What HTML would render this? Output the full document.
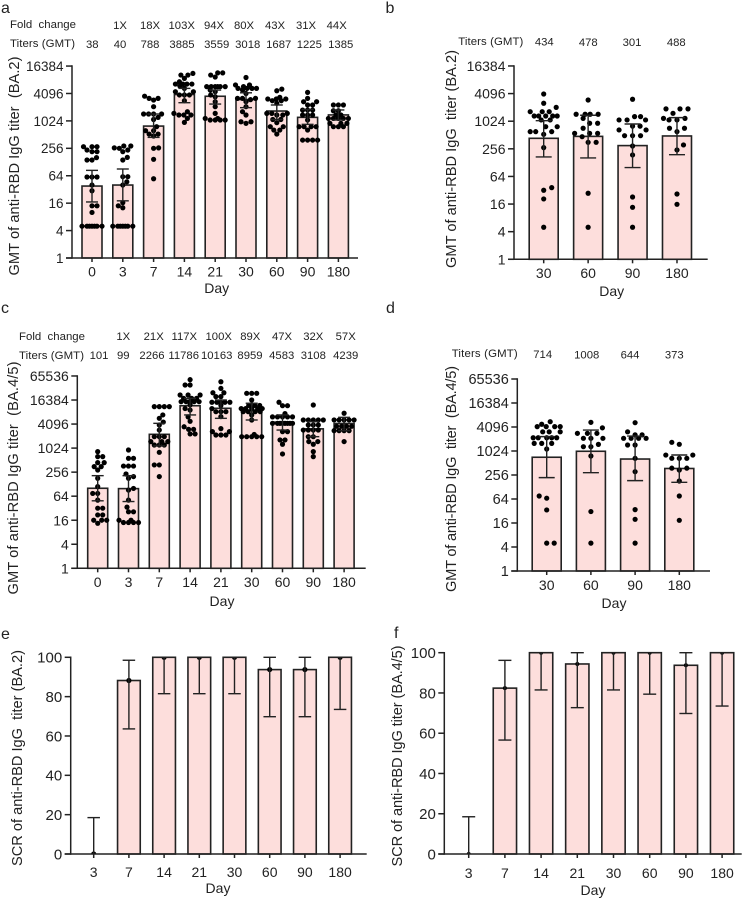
<!DOCTYPE html>
<html lang="en">
<head>
<meta charset="utf-8">
<title>Anti-RBD IgG titers</title>
<style>
html,body{margin:0;padding:0;background:#fff;}
svg{display:block;}
text{font-family:"Liberation Sans",Arial,sans-serif;fill:#222;white-space:pre;}
.top{font-size:11.3px;text-anchor:middle;}
.topl{font-size:11.4px;text-anchor:start;}
.title{font-size:14.6px;text-anchor:middle;}
.day{font-size:14px;text-anchor:middle;}
.plabel{font-size:16px;}
</style>
</head>
<body>
<svg id="fig" xmlns="http://www.w3.org/2000/svg" width="749" height="899" viewBox="0 0 749 899">
<text class="plabel" x="1" y="13">a</text>
<text class="plabel" x="385.5" y="13">b</text>
<text class="plabel" x="1" y="313">c</text>
<text class="plabel" x="386" y="313">d</text>
<text class="plabel" x="1" y="639">e</text>
<text class="plabel" x="394" y="638">f</text>

<g>
<text class="topl" x="10" y="28" textLength="66">Fold  change</text>
<text class="topl" x="10" y="47" textLength="65">Titers (GMT)</text>
<text class="top" x="120" y="29">1X</text>
<text class="top" x="150" y="29">18X</text>
<text class="top" x="181.7" y="29">103X</text>
<text class="top" x="214" y="29">94X</text>
<text class="top" x="244" y="29">80X</text>
<text class="top" x="275" y="29">43X</text>
<text class="top" x="306" y="29">31X</text>
<text class="top" x="336.7" y="29">44X</text>
<text class="top" x="92.3" y="48">38</text>
<text class="top" x="120" y="48">40</text>
<text class="top" x="150" y="48">788</text>
<text class="top" x="182" y="48">3885</text>
<text class="top" x="216.7" y="48">3559</text>
<text class="top" x="247.7" y="48">3018</text>
<text class="top" x="278.7" y="48">1687</text>
<text class="top" x="309.3" y="48">1225</text>
<text class="top" x="340.7" y="48">1385</text>
<text class="title" transform="translate(19,166) rotate(-90)" textLength="219">GMT of anti-RBD IgG titer  (BA.2)</text>
<text class="day" x="216.7" y="293">Day</text>
</g>

<g>
<text class="topl" x="458.3" y="45" textLength="65">Titers (GMT)</text>
<text class="top" x="544.3" y="45.5">434</text>
<text class="top" x="588.3" y="46">478</text>
<text class="top" x="632" y="46">301</text>
<text class="top" x="676.3" y="46">488</text>
<text class="title" transform="translate(456,159) rotate(-90)" textLength="218">GMT of anti-RBD IgG  titer (BA.2)</text>
<text class="day" x="611.7" y="296">Day</text>
</g>

<g>
<text class="topl" x="19" y="340" textLength="66">Fold  change</text>
<text class="topl" x="19" y="359" textLength="65">Titers (GMT)</text>
<text class="top" x="123.3" y="340">1X</text>
<text class="top" x="153.7" y="340">21X</text>
<text class="top" x="184.3" y="340">117X</text>
<text class="top" x="218.7" y="340">100X</text>
<text class="top" x="250.3" y="340">89X</text>
<text class="top" x="282" y="340">47X</text>
<text class="top" x="313.3" y="340">32X</text>
<text class="top" x="345.7" y="340">57X</text>
<text class="top" x="99" y="359">101</text>
<text class="top" x="123.3" y="359">99</text>
<text class="top" x="152" y="359">2266</text>
<text class="top" x="183.7" y="359">11786</text>
<text class="top" x="216.7" y="359">10163</text>
<text class="top" x="250" y="359">8959</text>
<text class="top" x="281.7" y="359">4583</text>
<text class="top" x="313.3" y="359">3108</text>
<text class="top" x="345.7" y="359">4239</text>
<text class="title" transform="translate(18,478) rotate(-90)" textLength="233">GMT of anti-RBD IgG titer  (BA.4/5)</text>
<text class="day" x="222" y="606">Day</text>
</g>

<g>
<text class="topl" x="451.7" y="357" textLength="66">Titers (GMT)</text>
<text class="top" x="542.7" y="358">714</text>
<text class="top" x="586.7" y="358.5">1008</text>
<text class="top" x="630" y="358.5">644</text>
<text class="top" x="674.3" y="358.5">373</text>
<text class="title" transform="translate(456,479) rotate(-90)" textLength="226">GMT of anti-RBD IgG  titer  (BA.4/5)</text>
<text class="day" x="614" y="608">Day</text>
</g>

<g>
<text class="title" transform="translate(22,758) rotate(-90)" textLength="216">SCR of anti-RBD IgG  titer (BA.2)</text>
<text class="day" x="218" y="893">Day</text>
</g>

<g>
<text class="title" transform="translate(402,756) rotate(-90)" textLength="221">SCR of anti-RBD IgG titer (BA.4/5)</text>
<text class="day" x="593" y="895">Day</text>
</g>
</svg>

<script>
// ---------- shared tick labels ----------
var logTicksSmall = [1, 4, 16, 64, 256, 1024, 4096, 16384];
var logTicksLarge = [1, 4, 16, 64, 256, 1024, 4096, 16384, 65536];
var pctTicks = [0, 20, 40, 60, 80, 100];

// ---------- panel a ----------
var aDays = ["0","3","7","14","21","30","60","90","180"];
var aGMT = [38,40,788,3885,3559,3018,1687,1225,1385];
var aUpper = [84,90,1450,5300,4870,4240,2290,1830,1780];
var aLower = [17,18,445,2570,2400,2000,1100,860,1070];
var aPoints = [
 [5,5,5,5,5,5,5,10,14,14,30,40,60,60,60,142,142,160,216,216,235,278,278,278],
 [5,5,5,5,5,5,5,12.7,14,16.4,40,47,61,61,142,162,216,235,256,262,288,288],
 [55,147,256,262,477,526,526,625,625,765,1100,1225,1450,1450,1450,1450,2100,2940,3200,3200,3570],
 [950,1160,1380,1380,1380,1500,1630,2840,3800,3800,3800,4480,4480,5300,5950,6600,6600,6600,6600,7400,8780,10400,10400,11300],
 [1070,1070,1070,1070,1160,1160,1500,2100,2700,3470,3800,4480,4870,5800,5800,5800,5800,5800,5800,9400,10400,11600,11600],
 [905,980,980,1380,1630,2100,2700,3000,3200,3200,3200,4096,4870,5300,5300,5300,5300,5800,6300,6300,9200],
 [526,645,645,765,765,935,1100,1100,1380,1380,1500,1500,1500,2490,2840,2840,3100,3100,3100,3370,4700,5110],
 [388,388,388,388,645,765,765,765,765,1070,1380,1380,1380,1770,1770,1770,2290,2290,2700,2700,3200,4330],
 [765,765,765,905,905,905,1160,1160,1160,1160,1160,1380,1380,1710,1710,2290,2290,2290]
];

// ---------- panel b ----------
var bDays = ["30","60","90","180"];
var bGMT = [434,478,301,488];
var bUpper = [1050,1380,890,1225];
var bLower = [170,162,100,191];
var bPoints = [
 [5,20.7,32,36.5,272,530,606,606,606,778,778,1090,1090,1330,1330,1330,1330,1330,1650,1650,1650,2050,2520,4010],
 [5,27.5,355,355,471,557,557,557,719,923,923,1180,1450,1450,1450,1450,2970],
 [5,13.6,22.8,188,295,495,495,495,660,660,800,800,1090,1090,1090,1290,1290,3080],
 [15.8,26.5,242,311,606,719,719,1090,1090,1180,1180,1520,1900,1900,1900]
];

// ---------- panel c ----------
var cDays = ["0","3","7","14","21","30","60","90","180"];
var cGMT = [101,99,2266,11786,10163,8959,4583,3108,4239];
var cUpper = [209,209,4270,18000,16400,13600,6930,4700,6040];
var cLower = [49,47,1160,6930,5700,5180,2900,1980,2800];
var cPoints = [
 [13.4,16,16,16,21.7,21.7,32,32,51,75,75,111,180,290,352,352,443,443,626,626,836],
 [14,14,14,14,16,16,26,26,34,51,91,100,180,198,230,363,363,363,568,568,919],
 [198,388,388,803,1226,1226,1226,1488,1488,1488,1980,1980,1980,2900,3880,4600,5700,6930,11200,11200,11200,11200],
 [2320,2320,3020,3020,3500,4800,6200,9200,10000,12400,14900,14900,14900,14900,14900,18000,18000,18000,21900,21900,21900,39000,39000,53000],
 [2180,2180,2180,2650,2650,3150,6300,8360,8360,8360,10000,12000,14400,14400,14400,14400,14400,19900,19900,24900,24900,32000,47000],
 [1980,1980,1980,1980,1980,2250,5180,6900,8360,8360,8360,8360,10000,10000,10000,10000,10000,12000,12000,12000,16400,24100,24100,24100],
 [730,1280,1640,1640,2650,2650,4270,4270,4270,4270,4270,4270,4270,4270,6200,6200,6200,6200,6200,7500,11800,11800,14400],
 [626,836,1280,1490,1490,1980,1980,2900,2900,2900,2900,3880,3880,3880,5180,5180,5180,5180,5180,12300],
 [1490,2800,2800,2800,2800,3600,3600,3600,3600,5200,5200,5200,5200,5200,7640]
];

// ---------- panel d ----------
var dDays = ["30","60","90","180"];
var dGMT = [714,1008,644,373];
var dUpper = [2350,3440,2430,813];
var dLower = [220,293,185,168];
var dPoints = [
 [5,5,34,67,76,1150,1590,1590,1590,2200,2200,2200,2200,2200,3100,3100,3100,4180,4180,4180,4180,4800,5560],
 [5,31,766,1315,1315,1500,2130,2130,2130,2840,2840,2840,3900,5360],
 [5,19.8,34.6,310,671,1450,1450,2130,2130,2130,2130,2600,2600,3100,5260],
 [18.7,76,181,342,380,380,671,671,671,810,810,1508,1690]
];

// ---------- panel e ----------
var eDays = ["3","7","14","21","30","60","90","180"];
var eSCR = [0,88.2,100,100,100,93.75,93.75,100];
var eUpper = [18.5,98.5,100,100,100,100,100,100];
var eLower = [0,63.6,81.5,81.5,81.5,69.8,69.8,73.5];

// ---------- panel f ----------
var fDays = ["3","7","14","21","30","60","90","180"];
var fSCR = [0,82.4,100,94.4,100,100,93.75,100];
var fUpper = [18.5,96.2,100,100,100,100,100,100];
var fLower = [0,56.6,81.5,72.7,81.5,79.4,69.8,73.5];

var NS = "http://www.w3.org/2000/svg";
var INK = "#222";
var fig = document.getElementById("fig");

function make(tag, parent, attrs) {
  var el = document.createElementNS(NS, tag);
  for (var k in attrs) el.setAttribute(k, attrs[k]);
  parent.appendChild(el);
  return el;
}

// Generic bar chart: cfg holds axis geometry, arrays hold data.
function drawPanel(id, cfg, days, values, upper, lower, points, ticks) {
  var g = make("g", fig, {});
  
  

  function yScale(v) { return cfg.yBase - cfg.pos(v) * cfg.unit; }
  function xScale(i) { return cfg.x0 + i * cfg.step; }

  // Bars
  values.forEach(function (v, i) {
    var top = yScale(v);
    var bar = make("rect", g, {
      x: xScale(i) - cfg.barW / 2, y: top, width: cfg.barW, height: Math.max(cfg.yBase - top, 0),
      fill: "#fddedc", stroke: INK, "stroke-width": 1.6
    });
    
    
  });

  // Dots, placed as a centred beeswarm around each bar
  var clipId = "clip-" + id;
  var defs = make("clipPath", g, { id: clipId });
  make("rect", defs, { x: cfg.axisX, y: yScale(cfg.yMax), width: cfg.axisEnd - cfg.axisX, height: cfg.yBase - yScale(cfg.yMax) });
  var dots = make("g", g, cfg.clip ? { "clip-path": "url(#" + clipId + ")" } : {});
  
  

  function placeDots(list, i) {
    var sorted = list.slice().sort(function (a, b) { return a - b; });
    var placed = [];
    sorted.forEach(function (v, n) {
      var y = yScale(v);
      var side = n % 2 ? 1 : -1;
      var bestX = 0, bestD = -1, found = false;
      for (var s = 0; s <= cfg.spread && !found; s += 0.5) {
        var tries = s === 0 ? [0] : [s * side, -s * side];
        for (var t = 0; t < tries.length; t++) {
          var nearest = Infinity;
          placed.forEach(function (p) {
            var dx = p.x - tries[t], dy = p.y - y;
            nearest = Math.min(nearest, Math.sqrt(dx * dx + dy * dy));
          });
          if (nearest > bestD) { bestD = nearest; bestX = tries[t]; }
          if (nearest >= cfg.dotGap) { bestX = tries[t]; found = true; break; }
        }
      }
      placed.push({ x: bestX, y: y });
      var dot = make("circle", dots, { cx: xScale(i) + bestX, cy: y, r: cfg.r, fill: "#000" });
      
      
    });
  }

  if (points) {
    points.forEach(placeDots);
  } else {
    values.forEach(function (v, i) { placeDots([v], i); });
  }

  // Error bars
  values.forEach(function (v, i) {
    var x = xScale(i), yU = yScale(upper[i]), yL = yScale(lower[i]);
    var eg = make("g", g, { stroke: INK, "stroke-width": 1.4, fill: "none" });
    
    
    make("line", eg, { x1: x, x2: x, y1: yU, y2: yL });
    make("line", eg, { x1: x - cfg.cap / 2, x2: x + cfg.cap / 2, y1: yU, y2: yU });
    if (yScale(lower[i]) < cfg.yBase - 0.5) {
      make("line", eg, { x1: x - cfg.cap / 2, x2: x + cfg.cap / 2, y1: yL, y2: yL });
    }
  });

  // Axes
  var axis = make("g", g, { stroke: INK, "stroke-width": 1.5, fill: "none" });
  
  
  make("line", axis, { x1: cfg.axisX, x2: cfg.axisX, y1: yScale(cfg.yMax) - 0.75, y2: cfg.yBase + 0.75 });
  make("line", axis, { x1: cfg.axisX - 6, x2: cfg.axisEnd, y1: cfg.yBase, y2: cfg.yBase });

  ticks.forEach(function (t) {
    var y = yScale(t);
    make("line", axis, { x1: cfg.axisX - 6, x2: cfg.axisX, y1: y, y2: y });
    var lab = make("text", g, {
      x: cfg.axisX - 8.5, y: y + cfg.yFont * 0.36, "text-anchor": "end", "font-size": cfg.yFont
    });
    lab.textContent = String(t);
    
    
  });

  days.forEach(function (d, i) {
    var x = xScale(i);
    make("line", axis, { x1: x, x2: x, y1: cfg.yBase, y2: cfg.yBase + 4 });
    var lab = make("text", g, {
      x: x, y: cfg.xLabelY, "text-anchor": "middle", "font-size": 14
    });
    lab.textContent = d;
    
    
  });
}

function log2Pos(v) { return Math.log(v) / Math.LN2; }
function linPos(v) { return v; }

drawPanel("a", { pos: log2Pos, unit: 13.71, yBase: 258, yMax: 16384, x0: 92, step: 30.8, barW: 20, axisX: 72, axisEnd: 358, cap: 12, r: 2.6, dotGap: 4.8, spread: 10.5, yFont: 13.5, xLabelY: 276.5, clip: false },
  aDays, aGMT, aUpper, aLower, aPoints, logTicksSmall);

drawPanel("b", { pos: log2Pos, unit: 13.81, yBase: 259.3, yMax: 16384, x0: 543.7, step: 44.43, barW: 29, axisX: 514, axisEnd: 707.7, cap: 16, r: 2.6, dotGap: 8, spread: 13.5, yFont: 14, xLabelY: 278, clip: false },
  bDays, bGMT, bUpper, bLower, bPoints, logTicksSmall);

drawPanel("c", { pos: log2Pos, unit: 12.02, yBase: 568.3, yMax: 65536, x0: 97.7, step: 30.8, barW: 20, axisX: 77.3, axisEnd: 365.7, cap: 12, r: 2.6, dotGap: 4.8, spread: 10.5, yFont: 14, xLabelY: 587, clip: false },
  cDays, cGMT, cUpper, cLower, cPoints, logTicksLarge);

drawPanel("d", { pos: log2Pos, unit: 12, yBase: 571, yMax: 65536, x0: 546.7, step: 44.2, barW: 29, axisX: 517.3, axisEnd: 710, cap: 16, r: 2.6, dotGap: 7.5, spread: 13.5, yFont: 14.5, xLabelY: 590, clip: false },
  dDays, dGMT, dUpper, dLower, dPoints, logTicksLarge);

drawPanel("e", { pos: linPos, unit: 1.967, yBase: 854, yMax: 100, x0: 93.7, step: 35.2, barW: 22.7, axisX: 70.7, axisEnd: 366.7, cap: 12.5, r: 2.6, dotGap: 5, spread: 0, yFont: 15, xLabelY: 877, clip: true },
  eDays, eSCR, eUpper, eLower, null, pctTicks);

drawPanel("f", { pos: linPos, unit: 2.013, yBase: 854, yMax: 100, x0: 468.7, step: 36.2, barW: 23.3, axisX: 444.3, axisEnd: 741.7, cap: 13, r: 2, dotGap: 5, spread: 0, yFont: 15, xLabelY: 878, clip: true },
  fDays, fSCR, fUpper, fLower, null, pctTicks);
</script>
</body>
</html>
